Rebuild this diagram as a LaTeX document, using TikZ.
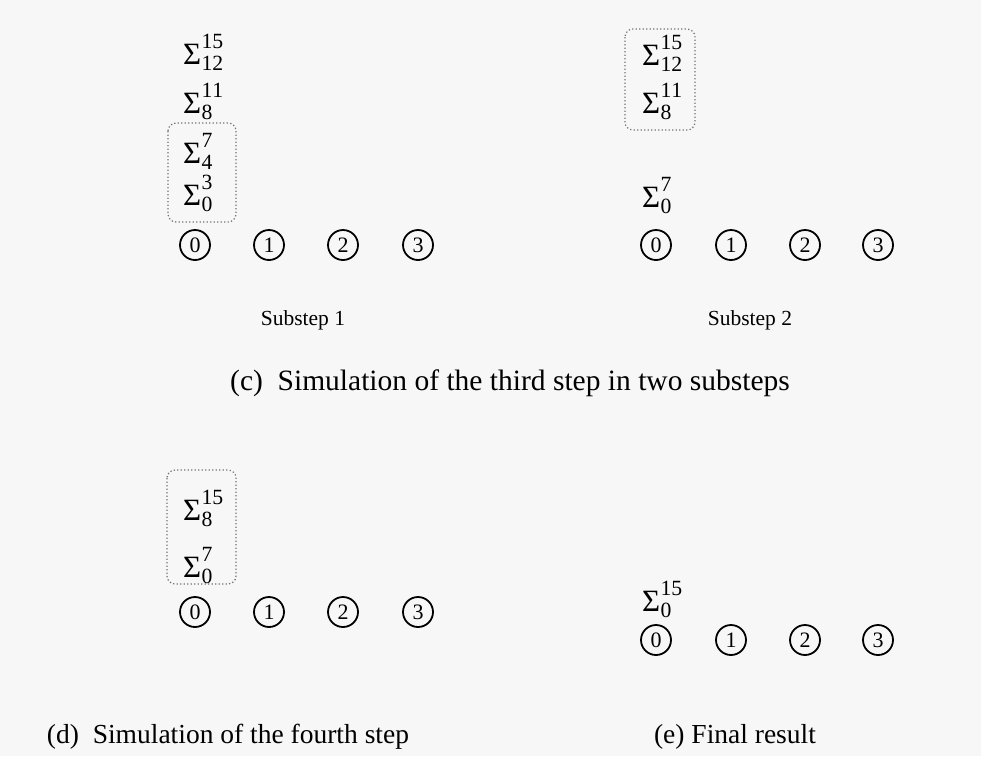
\documentclass[tikz,border=0pt]{standalone}
\usepackage{fontspec}
\setmainfont{Liberation Serif}
\newcommand\sgm[2]{Σ\kern0.3pt$\rule[-0.1em]{0pt}{0.86em}^{\mathrm{#2}}_{\mathrm{#1}}$}
\begin{document}
\begin{tikzpicture}[x=1pt,y=-1pt,
  proc/.style={circle,draw,line width=1.8pt,minimum size=30pt,inner sep=0pt,font=\fontsize{22}{22}\selectfont},
  sig/.style={inner sep=0pt,anchor=base west,font=\fontsize{31}{31}\selectfont},
  grp/.style={draw=black!55,line width=1.2pt,dash pattern=on 1.3pt off 2.2pt,rounded corners=8pt},
  sub/.style={font=\fontsize{21.5}{21.5}\selectfont},
  captext/.style={font=\fontsize{29.5}{29.5}\selectfont},
  captext2/.style={font=\fontsize{27.5}{27.5}\selectfont}]
\fill[black!3] (0,0) rectangle (981,756);
\useasboundingbox (0,0) rectangle (981,756);

% ---- panel (c), substep 1
\foreach \i/\x in {0/195,1/269,2/343,3/418}
  \node[proc] (a\i) at (\x,245) {\i};
\node[sig] (a15) at (183,64)  {\sgm{12}{15}};
\node[sig] (a11) at (183,113) {\sgm{8}{11}};
\node[sig] (a7)  at (183,163) {\sgm{4}{7}};
\node[sig] (a3)  at (183,205) {\sgm{0}{3}};
\draw[grp] (168,123) rectangle (236,222);
\node[sub] (s1) at (303,320) {Substep 1};

% ---- panel (c), substep 2
\foreach \i/\x in {0/656,1/731,2/805,3/878}
  \node[proc] (b\i) at (\x,245) {\i};
\node[sig] (b15) at (642,65)  {\sgm{12}{15}};
\node[sig] (b11) at (642,113) {\sgm{8}{11}};
\draw[grp] (625,29) rectangle (695,130);
\node[sig] (b7) at (642,207) {\sgm{0}{7}};
\node[sub] (s2) at (750,320) {Substep 2};

\node[captext] (capc) at (510,383) {(c)\ \ Simulation of the third step in two substeps};

% ---- panel (d)
\foreach \i/\x in {0/195,1/269,2/343,3/418}
  \node[proc] (d\i) at (\x,612) {\i};
\node[sig] (d15) at (183,520) {\sgm{8}{15}};
\node[sig] (d7)  at (183,577) {\sgm{0}{7}};
\draw[grp] (167,470) rectangle (236,584);
\node[captext2] (capd) at (228,737) {(d)\ \ Simulation of the fourth step};

% ---- panel (e)
\foreach \i/\x in {0/656,1/731,2/805,3/878}
  \node[proc] (e\i) at (\x,640) {\i};
\node[sig] (e15) at (642,611) {\sgm{0}{15}};
\node[captext2] (cape) at (735,737) {(e) Final result};
\end{tikzpicture}
\end{document}
